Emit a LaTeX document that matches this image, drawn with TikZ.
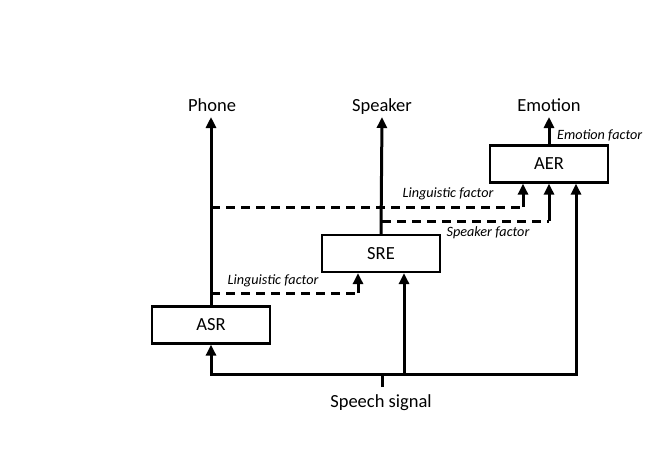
\documentclass[tikz,border=0pt]{standalone}
\usepackage{fontspec}
\setmainfont{Carlito}
\usetikzlibrary{arrows.meta}
\begin{document}
\begin{tikzpicture}[x=1pt,y=-1pt,
  box/.style={draw,line width=2.2pt,minimum width=118pt,minimum height=37pt,inner sep=0pt,font=\fontsize{18.5}{22}\selectfont},
  lbl/.style={font=\fontsize{18.5}{22}\selectfont,inner sep=0pt,anchor=base},
  fac/.style={font=\fontsize{14.2}{17}\selectfont\itshape,inner sep=0pt},
  sig/.style={line width=3pt},
  arr/.style={line width=3pt,-{Triangle[length=11pt,width=10pt]}},
  dsh/.style={line width=3pt,dash pattern=on 9pt off 6pt}]
\useasboundingbox (0,0) rectangle (666,471);
\node[box] (asr) at (211,325) {ASR};
\node[box] (sre) at (381,253.5) {SRE};
\node[box] (aer) at (549,164) {AER};
\node[lbl] (phone) at (212,111) {Phone};
\node[lbl] (speaker) at (382,111) {Speaker};
\node[lbl] (emotion) at (549,111) {Emotion};
\node[lbl] (speech) at (381,407.5) {Speech signal};
\coordinate (s0) at (382,387);
\coordinate (s1) at (382,374);
\coordinate (bl) at (211,374);
\coordinate (br) at (576,374);
\coordinate (bm) at (404,374);
% main signal
\draw[sig] (s0) -- (s1);
\draw[arr] (s1) -| (asr.south);
\draw[arr] (s1) -| (br |- aer.south);
\draw[arr] (bm) -- (bm |- sre.south);
% outputs
\draw[arr] (asr.north) -- (211,117);
\draw[arr] (sre.north) -- (382,117);
\draw[arr] (aer.north) -- (549,117);
% factors
\coordinate (l1) at (211,293);
\coordinate (l1e) at (358,293);
\draw[dsh] (l1) -- (l1e);
\draw[arr] (l1e) -- (l1e |- sre.south);
\coordinate (l2) at (211,207);
\coordinate (l2e) at (523,207);
\draw[dsh] (l2) -- (l2e);
\draw[arr] (l2e) -- (l2e |- aer.south);
\coordinate (sp) at (382,221);
\coordinate (spe) at (549,221);
\draw[dsh] (sp) -- (spe);
\draw[arr] (spe) -- (spe |- aer.south);
\node[fac] (lf1) at (273,281) {Linguistic factor};
\node[fac] (lf2) at (448,194) {Linguistic factor};
\node[fac] (sf) at (488,233) {Speaker factor};
\node[fac,anchor=west] (ef) at (557,135) {Emotion factor};
\end{tikzpicture}
\end{document}
